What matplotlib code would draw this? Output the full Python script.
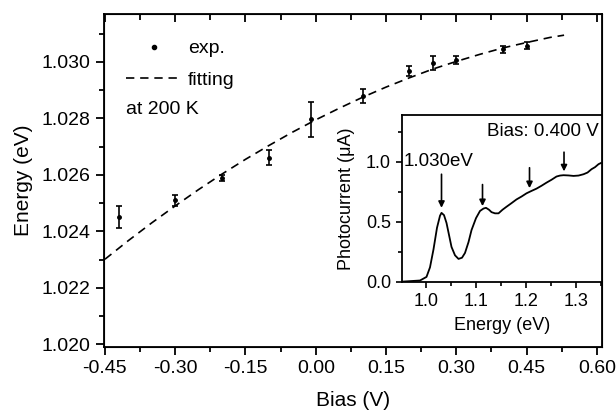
import matplotlib.pyplot as plt
from matplotlib.lines import Line2D
from matplotlib.ticker import MultipleLocator

plt.rcParams['font.family'] = ['Liberation Sans', 'DejaVu Sans']

# measured peak energy vs bias
bias = [-0.42, -0.30, -0.20, -0.10, -0.01, 0.10, 0.20, 0.25, 0.30, 0.40, 0.45]
energy = [1.0245, 1.0251, 1.0259, 1.02661, 1.02797, 1.02879, 1.02968, 1.02995, 1.03007, 1.03045, 1.03058]
energy_err = [0.0004, 0.0002, 0.0001, 0.00027, 0.00062, 0.00024, 0.00018, 0.00025, 0.00014, 0.00012, 0.00012]

# fitting curve
fit_bias = [-0.45, -0.40, -0.35, -0.30, -0.25, -0.20, -0.15, -0.10, -0.05, 0.00,
            0.05, 0.10, 0.15, 0.20, 0.25, 0.30, 0.35, 0.40, 0.45, 0.50, 0.53]
fit_energy = [1.02301, 1.02367, 1.02430, 1.02490, 1.02548, 1.02603, 1.02655, 1.02704, 1.02751, 1.02795,
              1.02836, 1.02875, 1.02911, 1.02944, 1.02975, 1.03002, 1.03027, 1.03050, 1.03069, 1.03087, 1.03095]

# inset: photocurrent spectrum at 0.400 V
pc_energy = [0.950, 0.988, 1.001, 1.008, 1.015, 1.022, 1.028, 1.031, 1.036, 1.041, 1.046, 1.051,
             1.058, 1.065, 1.072, 1.078, 1.085, 1.091, 1.100, 1.108, 1.115, 1.120, 1.126, 1.131,
             1.138, 1.145, 1.153, 1.161, 1.171, 1.181, 1.191, 1.201, 1.211, 1.221, 1.231, 1.241,
             1.251, 1.261, 1.268, 1.275, 1.285, 1.295, 1.305, 1.315, 1.323, 1.331, 1.338, 1.345, 1.350]
pc_current = [0.0, 0.01, 0.04, 0.12, 0.27, 0.45, 0.55, 0.574, 0.555, 0.49, 0.39, 0.29,
              0.22, 0.19, 0.20, 0.24, 0.33, 0.43, 0.53, 0.59, 0.61, 0.616, 0.60, 0.58,
              0.57, 0.57, 0.60, 0.625, 0.655, 0.686, 0.71, 0.737, 0.757, 0.776, 0.80, 0.826,
              0.85, 0.877, 0.885, 0.888, 0.886, 0.882, 0.885, 0.896, 0.91, 0.938, 0.955, 0.98, 0.99]
arrow_pos = [1.031, 1.113, 1.207, 1.276]
arrow_top = [0.896, 0.81, 0.95, 1.08]
arrow_tip = [0.616, 0.63, 0.78, 0.92]

bias_ticks = [-0.45, -0.30, -0.15, 0.00, 0.15, 0.30, 0.45, 0.60]
bias_labels = ['-0.45', '-0.30', '-0.15', '0.00', '0.15', '0.30', '0.45', '0.60']
energy_ticks = [1.020, 1.022, 1.024, 1.026, 1.028, 1.030]
energy_labels = ['1.020', '1.022', '1.024', '1.026', '1.028', '1.030']

fig = plt.figure(figsize=(6.16, 4.11), dpi=100)
ax = fig.add_axes([0.1688, 0.1557, 0.8085, 0.8102])

ax.errorbar(bias, energy, yerr=energy_err, fmt='o', color='black', markersize=2.5,
            elinewidth=1.2, capsize=2.2, capthick=1.2, zorder=3)
ax.plot(fit_bias, fit_energy, color='black', linestyle=(0, (5, 3.5)), linewidth=1.2)

ax.set_xlim(-0.452, 0.611)
ax.set_ylim(1.0199, 1.0317)
ax.set_xticks(bias_ticks)
ax.set_xticklabels(bias_labels)
ax.xaxis.set_minor_locator(MultipleLocator(0.075))
ax.set_yticks(energy_ticks)
ax.set_yticklabels(energy_labels)
ax.yaxis.set_minor_locator(MultipleLocator(0.001))
ax.tick_params(axis='both', which='both', labelsize=14, width=1.3, direction='out')
ax.tick_params(which='major', length=6)
ax.tick_params(which='minor', length=3.5)
for sp in ax.spines.values():
    sp.set_linewidth(1.3)

# inward ticks along the top edge
top = ax.twiny()
top.set_xlim(ax.get_xlim())
top.set_xticks(bias_ticks)
top.xaxis.set_minor_locator(MultipleLocator(0.075))
top.tick_params(which='both', direction='in', labeltop=False, width=1.3)
top.tick_params(which='major', length=6)
top.tick_params(which='minor', length=4)

ax.set_xlabel('Bias (V)', fontsize=15, labelpad=10)
ax.set_ylabel('Energy (eV)', fontsize=15, labelpad=6)

handles = [Line2D([], [], marker='o', linestyle='none', color='black', markersize=3),
           Line2D([], [], color='black', linestyle=(0, (5, 3.5)), linewidth=1.2)]
ax.legend(handles, ['exp.', 'fitting'], loc='upper left', bbox_to_anchor=(0.028, 0.946),
          frameon=False, fontsize=14, handlelength=2.9, handletextpad=0.3,
          labelspacing=0.7, borderaxespad=0)
ax.text(0.044, 0.712, 'at 200 K', transform=ax.transAxes, fontsize=14, va='center')

# inset
ins = fig.add_axes([0.6526, 0.3146, 0.3247, 0.4056])
ins.plot(pc_energy, pc_current, color='black', linewidth=1.3)
for e, y0, y1 in zip(arrow_pos, arrow_top, arrow_tip):
    ins.annotate('', xy=(e, y1), xytext=(e, y0),
                 arrowprops=dict(arrowstyle='-|>', color='black', lw=1.2,
                                 mutation_scale=9, shrinkA=0, shrinkB=0))
ins.set_xlim(0.952, 1.352)
ins.set_ylim(0, 1.39)
ins.set_xticks([1.0, 1.1, 1.2, 1.3])
ins.set_xticklabels(['1.0', '1.1', '1.2', '1.3'])
ins.xaxis.set_minor_locator(MultipleLocator(0.05))
ins.set_yticks([0.0, 0.5, 1.0])
ins.set_yticklabels(['0.0', '0.5', '1.0'])
ins.yaxis.set_minor_locator(MultipleLocator(0.25))
ins.tick_params(which='both', labelsize=13, width=1.2, direction='out')
ins.tick_params(which='major', length=4.5)
ins.tick_params(which='minor', length=3)
for sp in ins.spines.values():
    sp.set_linewidth(1.3)
ins.set_xlabel('Energy (eV)', fontsize=13, labelpad=5)
ins.set_ylabel('Photocurrent (\u03bcA)', fontsize=13, labelpad=8)
ins.text(0.985, 0.95, 'Bias: 0.400 V', transform=ins.transAxes, fontsize=13.5,
         ha='right', va='top')
ins.text(0.955, 1.0, '1.030eV', fontsize=13.5, ha='left', va='center')

fig.savefig('out.png', dpi=100)
